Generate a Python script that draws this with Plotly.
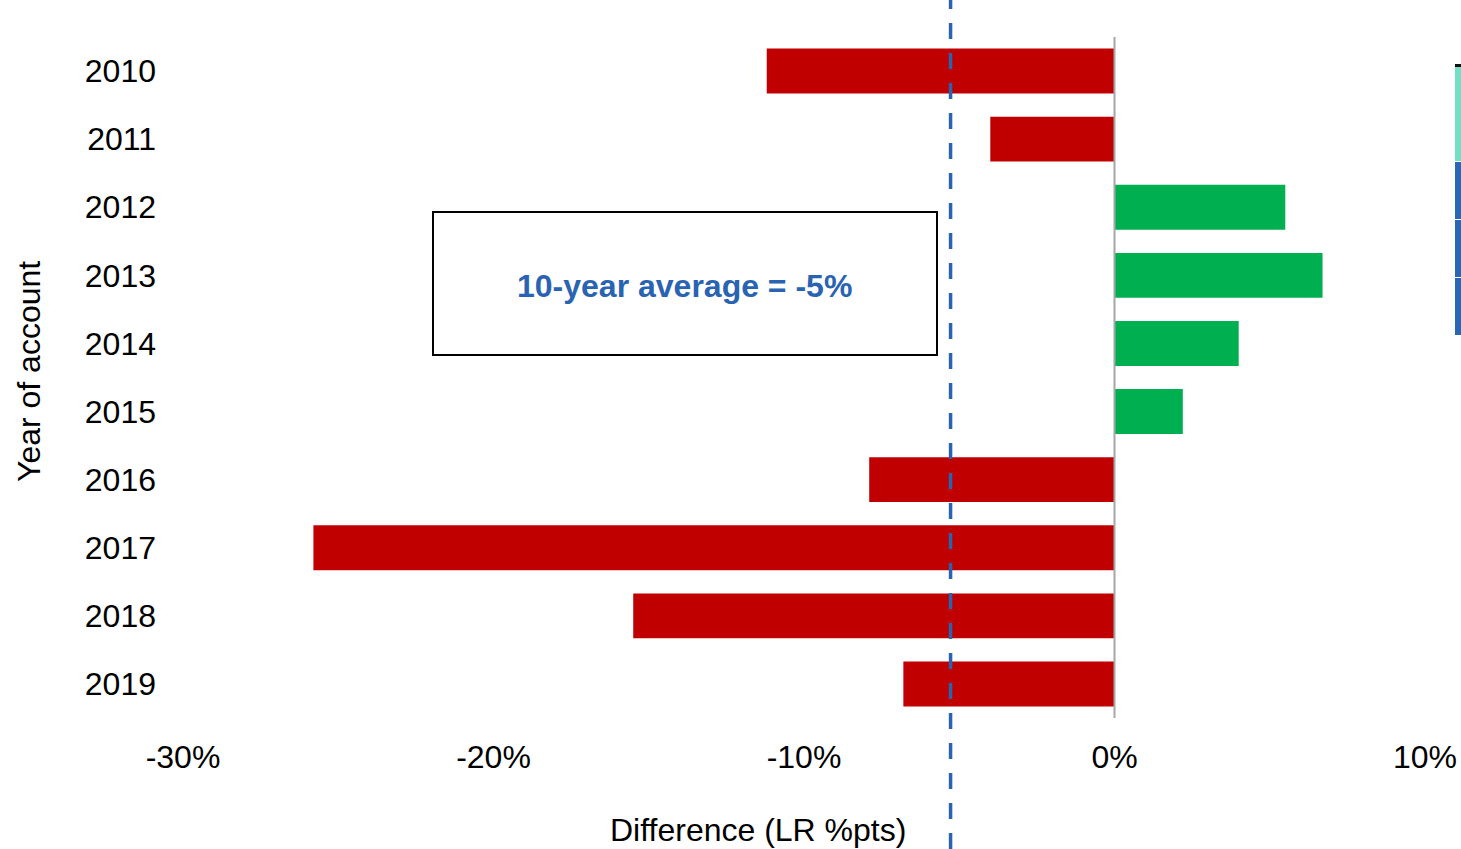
import plotly.graph_objects as go

# Loss-ratio difference by year of account (percentage points)
years = ["2010", "2011", "2012", "2013", "2014", "2015", "2016", "2017", "2018", "2019"]
diff_pts = [-11.2, -4.0, 5.5, 6.7, 4.0, 2.2, -7.9, -25.8, -15.5, -6.8]
x_ticks = [-30, -20, -10, 0, 10]
x_tick_labels = ["-30%", "-20%", "-10%", "0%", "10%"]

X_MIN, X_MAX = -30, 10
RED, GREEN, BLUE = "#C00000", "#00B050", "#2A63B2"
FONT = "Liberation Sans, Arial, sans-serif"
FS = 32

avg = sum(diff_pts) / len(diff_pts)
bar_colors = [GREEN if v > 0 else RED for v in diff_pts]

fig = go.Figure()
fig.add_trace(go.Bar(
    x=diff_pts, y=years, orientation="h",
    marker=dict(color=bar_colors, line=dict(width=0)),
    width=0.66, hoverinfo="x+y", showlegend=False,
))

W, H = 1461, 849
L, R, T, B = 183, 36, 37, 131
pw, ph = W - L - R, H - T - B


def px_x(p):
    return (p - L) / pw


def px_y(p):
    return (H - B - p) / ph


# dashed average line, running the full height of the page
avg_xp = (avg - X_MIN) / (X_MAX - X_MIN)
shapes = [dict(type="line", xref="paper", yref="paper",
               x0=avg_xp, x1=avg_xp, y0=px_y(H), y1=px_y(0),
               line=dict(color=BLUE, width=3.5, dash="16px,14px"), layer="above")]

# framed callout for the average
shapes.append(dict(type="rect", xref="paper", yref="paper",
                   x0=px_x(433), x1=px_x(937), y0=px_y(355), y1=px_y(212),
                   line=dict(color="black", width=2), fillcolor="rgba(0,0,0,0)", layer="above"))

# zero reference line
shapes.append(dict(type="line", xref="x", yref="paper", x0=0, x1=0, y0=0, y1=1,
                   line=dict(color="#A6A6A6", width=2), layer="above"))

# edge of the neighbouring stacked column
edge_segments = [(64, 67, "#111111"), (67, 161, "#75DFC5"), (162, 219, "#2966B4"),
                 (220, 277, "#2966B4"), (278, 335, "#2966B4")]
for top, bottom, col in edge_segments:
    shapes.append(dict(type="rect", xref="paper", yref="paper",
                       x0=px_x(1455), x1=px_x(1462), y0=px_y(bottom), y1=px_y(top),
                       line=dict(width=0), fillcolor=col, layer="above"))

annotations = [
    dict(text=f"<b>10-year average = {round(avg):d}%</b>", xref="paper", yref="paper",
         x=px_x(684), y=px_y(286), showarrow=False, xanchor="center", yanchor="middle",
         font=dict(family=FONT, size=FS, color=BLUE)),
    dict(text="Difference (LR %pts)", xref="paper", yref="paper",
         x=px_x(758), y=px_y(830), showarrow=False, xanchor="center", yanchor="middle",
         font=dict(family=FONT, size=FS, color="black")),
    dict(text="Year of account", xref="paper", yref="paper", textangle=-90,
         x=px_x(29), y=px_y(372), showarrow=False, xanchor="center", yanchor="middle",
         font=dict(family=FONT, size=FS, color="black")),
]

fig.update_layout(
    width=W, height=H,
    margin=dict(l=L, r=R, t=T, b=B, pad=0, autoexpand=False),
    paper_bgcolor="white", plot_bgcolor="white",
    font=dict(family=FONT, size=FS, color="black"),
    shapes=shapes, annotations=annotations,
    xaxis=dict(range=[X_MIN, X_MAX], tickvals=x_ticks, ticktext=x_tick_labels,
               showgrid=False, zeroline=False, showline=False, ticks="", automargin=False,
               ticklabelstandoff=17, tickfont=dict(family=FONT, size=FS, color="black")),
    yaxis=dict(type="category", autorange="reversed", showgrid=False, zeroline=False,
               showline=False, ticks="", automargin=False, ticklabelstandoff=26,
               tickfont=dict(family=FONT, size=FS, color="black")),
)

fig.write_html("out.html")
